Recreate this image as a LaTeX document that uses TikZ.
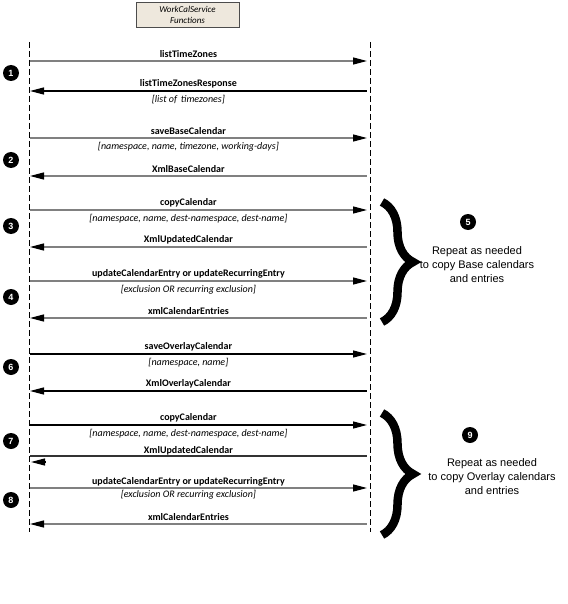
\documentclass[tikz,border=0pt]{standalone}
\usepackage{fontspec}
\setmainfont{Carlito}
\newfontfamily\arialfont{Liberation Sans}
\usetikzlibrary{arrows.meta,decorations.pathreplacing}
\definecolor{msggrey}{RGB}{128,128,128}
\definecolor{boxfill}{RGB}{238,232,221}
\tikzstyle{lifeline}=[draw=black, line width=0.8pt, dash pattern=on 6pt off 3pt]
\tikzstyle{call}=[line width=1.3pt, -{Triangle[length=14pt,width=7pt,color=black]}]
\tikzstyle{reply}=[line width=1.3pt, {Triangle[length=14pt,width=7pt,color=black]}-]
\tikzstyle{lbl}=[pos=0.47, yshift=7pt, font=\normalsize\bfseries, text=black]
\tikzstyle{note}=[pos=0.47, yshift=-9pt, font=\normalsize\itshape, text=black]
\tikzstyle{stepmark}=[circle, fill=black, text=white, inner sep=0pt, minimum size=16pt, font=\arialfont\bfseries\small]
\tikzstyle{repeat}=[align=center, font=\arialfont\fontsize{11}{14}\selectfont]
\tikzstyle{curly}=[line width=8.5pt, decorate, decoration={brace, amplitude=31pt}]
\tikzstyle{svcbox}=[draw=black!70, line width=0.8pt, fill=boxfill, minimum width=103pt, minimum height=25pt, align=center, font=\itshape\fontsize{9}{11}\selectfont]

\begin{document}
\begin{tikzpicture}[x=1pt, y=-1pt]
    \useasboundingbox (0,0) rectangle (567,604);
    \node[svcbox] (svc) at (187.5,14.5) {WorkCalService\\Functions};
    % lifelines
    \coordinate (lt) at (29,42);
    \coordinate (lb) at (29,532);
    \coordinate (rt) at (370,42);
    \coordinate (rb) at (370,532);
    \draw[lifeline] (lt) -- (lb);
    \draw[lifeline] (rt) -- (rb);
    % message ends
    \foreach \n/\y in {1/61, 2/91, 3/138, 4/176, 5/210, 6/247, 7/281,
                       8/318, 9/354, 10/391, 11/425, 12/456, 13/488, 14/524} {
        \coordinate (a\n) at (30,\y);
        \coordinate (b\n) at (367,\y);
    }
    \coordinate (tipA) at (31,462);
    \coordinate (tipB) at (45,462);
    % base calendar
    \draw[call, msggrey]  (a1) -- (b1) node[lbl] {listTimeZones};
    \draw[reply, black]   (a2) -- (b2) node[lbl] {listTimeZonesResponse}
                                       node[note] {[list of\, timezones]};
    \draw[call, msggrey]  (a3) -- (b3) node[lbl] {saveBaseCalendar}
                                       node[note] {[namespace, name, timezone, working-days]};
    \draw[reply, msggrey] (a4) -- (b4) node[lbl] {XmlBaseCalendar};
    \draw[call, msggrey]  (a5) -- (b5) node[lbl] {copyCalendar}
                                       node[note] {[namespace, name, dest-namespace, dest-name]};
    \draw[reply, msggrey] (a6) -- (b6) node[lbl] {XmlUpdatedCalendar};
    \draw[call, msggrey]  (a7) -- (b7) node[lbl] {updateCalendarEntry or updateRecurringEntry}
                                       node[note] {[exclusion OR recurring exclusion]};
    \draw[reply, msggrey] (a8) -- (b8) node[lbl] {xmlCalendarEntries};
    % overlay calendar
    \draw[call, black]    (a9) -- (b9) node[lbl] {saveOverlayCalendar}
                                       node[note] {[namespace, name]};
    \draw[reply, black]   (a10) -- (b10) node[lbl] {XmlOverlayCalendar};
    \draw[call, black]    (a11) -- (b11) node[lbl] {copyCalendar}
                                         node[note] {[namespace, name, dest-namespace, dest-name]};
    \draw[line width=1.3pt, black!80] (a12) -- (b12) node[lbl, yshift=-2pt] {XmlUpdatedCalendar};
    \draw[reply, black]   (tipA) -- (tipB);
    \draw[call, msggrey]  (a13) -- (b13) node[lbl, yshift=-1pt] {updateCalendarEntry or updateRecurringEntry}
                                         node[note, yshift=2pt] {[exclusion OR recurring exclusion]};
    \draw[reply, msggrey] (a14) -- (b14) node[lbl] {xmlCalendarEntries};
    % step numbers
    \node[stepmark] (s1) at (11,73) {1};
    \node[stepmark] (s2) at (11,160) {2};
    \node[stepmark] (s3) at (11,226) {3};
    \node[stepmark] (s4) at (11,297) {4};
    \node[stepmark] (s6) at (11,367) {6};
    \node[stepmark] (s7) at (11,441) {7};
    \node[stepmark] (s8) at (11,500) {8};
    \node[stepmark] (s5) at (468,222) {5};
    \node[stepmark] (s9) at (470,435) {9};
    % repeat braces
    \coordinate (c1t) at (382,202);
    \coordinate (c1b) at (382,322);
    \coordinate (c2t) at (382,413);
    \coordinate (c2b) at (382,535);
    \draw[curly] (c1t) -- (c1b);
    \draw[curly] (c2t) -- (c2b);
    \node[repeat] (rep1) at (477,265) {Repeat as needed\\to copy Base calendars\\and entries};
    \node[repeat] (rep2) at (492,477) {Repeat as needed\\to copy Overlay calendars\\and entries};
\end{tikzpicture}
\end{document}
